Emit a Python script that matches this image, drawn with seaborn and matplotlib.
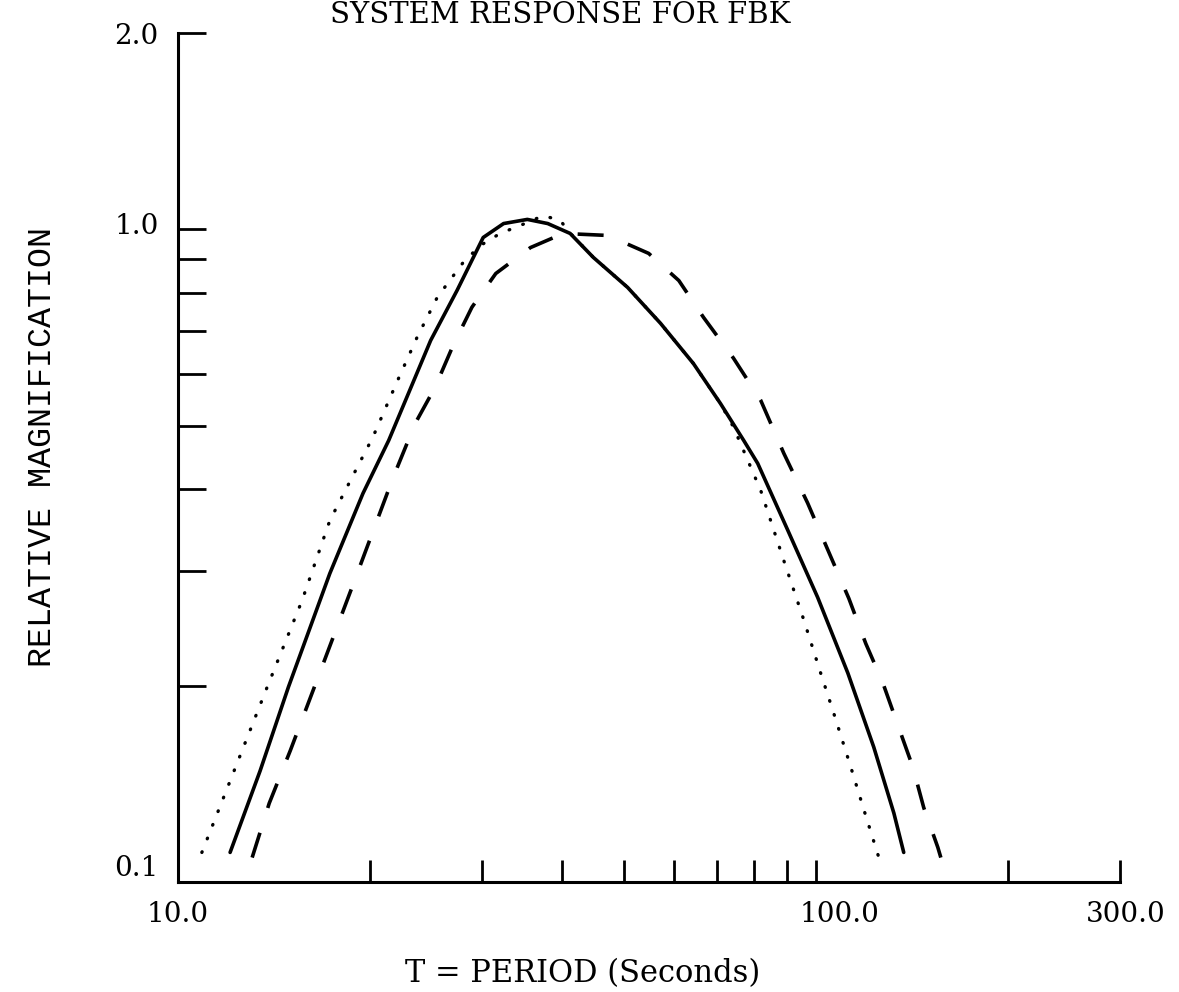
import numpy as np
import pandas as pd
import matplotlib
matplotlib.use("Agg")
import matplotlib.pyplot as plt
import matplotlib.transforms as mtransforms
import seaborn as sns

# period (s) and relative magnification
t_solid = [12.07, 13.45, 14.9, 17.3, 19.5, 21.4, 24.9, 27.4, 30.1, 32.4, 35.3, 38.0, 41.2,
           44.8, 50.7, 57.1, 64.3, 70.9, 77.1, 81.1, 90.4, 100.7, 112.3, 123.3, 132.6, 137.4]
m_solid = [0.111, 0.148, 0.199, 0.297, 0.394, 0.475, 0.676, 0.807, 0.972, 1.021, 1.036, 1.021, 0.986,
           0.906, 0.815, 0.718, 0.623, 0.541, 0.475, 0.438, 0.346, 0.273, 0.209, 0.161, 0.1275, 0.111]

t_dot = [10.9, 13.8, 15.65, 17.3, 19.1, 20.2, 22.1, 23.7, 25.5, 28.0, 29.8, 32.0, 34.4, 37.4, 39.8,
         40.8, 44.8, 50.7, 57.1, 64.3, 70.9, 74.3, 82.0, 89.1, 95.8, 101.8, 106.7, 113.5, 119.0, 125.6]
m_dot = [0.111, 0.199, 0.270, 0.358, 0.432, 0.480, 0.587, 0.683, 0.787, 0.890, 0.945, 0.986, 1.014, 1.05, 1.032,
         0.997, 0.906, 0.815, 0.718, 0.623, 0.541, 0.498, 0.398, 0.311, 0.252, 0.209, 0.1815, 0.150, 0.129, 0.109]

t_dash = [13.07, 13.9, 15.0, 16.8, 19.0, 21.75, 23.55, 25.3, 27.0, 28.9, 31.5, 35.7, 40.2, 47.2, 54.7,
          61.0, 66.7, 74.3, 82.0, 89.1, 97.1, 105.6, 112.7, 119.8, 127.4, 134.5, 142.0, 147.7, 155.4, 157.1]
m_dash = [0.109, 0.132, 0.159, 0.213, 0.293, 0.417, 0.5045, 0.573, 0.664, 0.760, 0.856, 0.938, 0.986, 0.979, 0.919,
          0.835, 0.733, 0.635, 0.547, 0.454, 0.381, 0.315, 0.272, 0.232, 0.202, 0.174, 0.150, 0.130, 0.113, 0.109]

x_ticks = [10, 20, 30, 40, 50, 60, 70, 80, 90, 100, 200, 300]
x_labels = ["10.0", "", "", "", "", "", "", "", "", "100.0", "", "300.0"]
y_ticks = [0.1, 0.2, 0.3, 0.4, 0.5, 0.6, 0.7, 0.8, 0.9, 1.0, 2.0]
y_labels = ["0.1", "", "", "", "", "", "", "", "", "1.0", "2.0"]

sns.set_style("white")
plt.rcParams["font.family"] = ["DejaVu Serif"]
plt.rcParams["text.color"] = "black"

fig = plt.figure(figsize=(11.79, 9.92), dpi=100)
ax = fig.add_axes([178 / 1179, 110 / 992, 942 / 1179, 849 / 992])

sns.lineplot(x=t_solid, y=m_solid, ax=ax, color="black", linewidth=2.6,
             sort=False, estimator=None)
sns.lineplot(x=t_dot, y=m_dot, ax=ax, color="black", linewidth=2.4,
             linestyle=(0, (0.2, 4.2)), dash_capstyle="round", sort=False, estimator=None)
sns.lineplot(x=t_dash, y=m_dash, ax=ax, color="black", linewidth=2.6,
             linestyle=(0, (7.2, 7.2)), sort=False, estimator=None)

ax.set_xscale("log")
ax.set_yscale("log")
ax.set_xlim(10, 300)
ax.set_ylim(0.1, 2.0)
ax.minorticks_off()
ax.set_xticks(x_ticks)
ax.set_xticklabels(x_labels)
ax.set_yticks(y_ticks)
ax.set_yticklabels(y_labels)
ax.tick_params(axis="x", bottom=True, direction="in", length=16, width=2.0, pad=14,
               labelsize=20, color="black", labelcolor="black")
ax.tick_params(axis="y", left=True, direction="in", length=20, width=2.0, pad=14,
               labelsize=20, color="black", labelcolor="black")

for s in ["top", "right"]:
    ax.spines[s].set_visible(False)
for s in ["left", "bottom"]:
    ax.spines[s].set_linewidth(2.2)
    ax.spines[s].set_color("black")

# nudge a few tick labels the way they sit in the original
shifts_x = {"100.0": (0.24, 0), "300.0": (0.06, 0)}
for lab in ax.get_xticklabels():
    if lab.get_text() in shifts_x:
        dx, dy = shifts_x[lab.get_text()]
        lab.set_transform(lab.get_transform() + mtransforms.ScaledTranslation(dx, dy, fig.dpi_scale_trans))
shifts_y = {"0.1": (0, 0.17), "1.0": (0, 0.06)}
for lab in ax.get_yticklabels():
    if lab.get_text() in shifts_y:
        dx, dy = shifts_y[lab.get_text()]
        lab.set_transform(lab.get_transform() + mtransforms.ScaledTranslation(dx, dy, fig.dpi_scale_trans))

fig.text(0.475, 0.999, "SYSTEM RESPONSE FOR FBK", ha="center", va="top", fontsize=21)
fig.text(0.036, 0.549, "RELATIVE MAGNIFICATION", ha="center", va="center", rotation=90,
         fontsize=24, family=["Liberation Mono", "DejaVu Sans Mono"])
fig.text(0.4945, 0.019, "T = PERIOD (Seconds)", ha="center", va="center", fontsize=22)

fig.savefig("out.png", dpi=100)
